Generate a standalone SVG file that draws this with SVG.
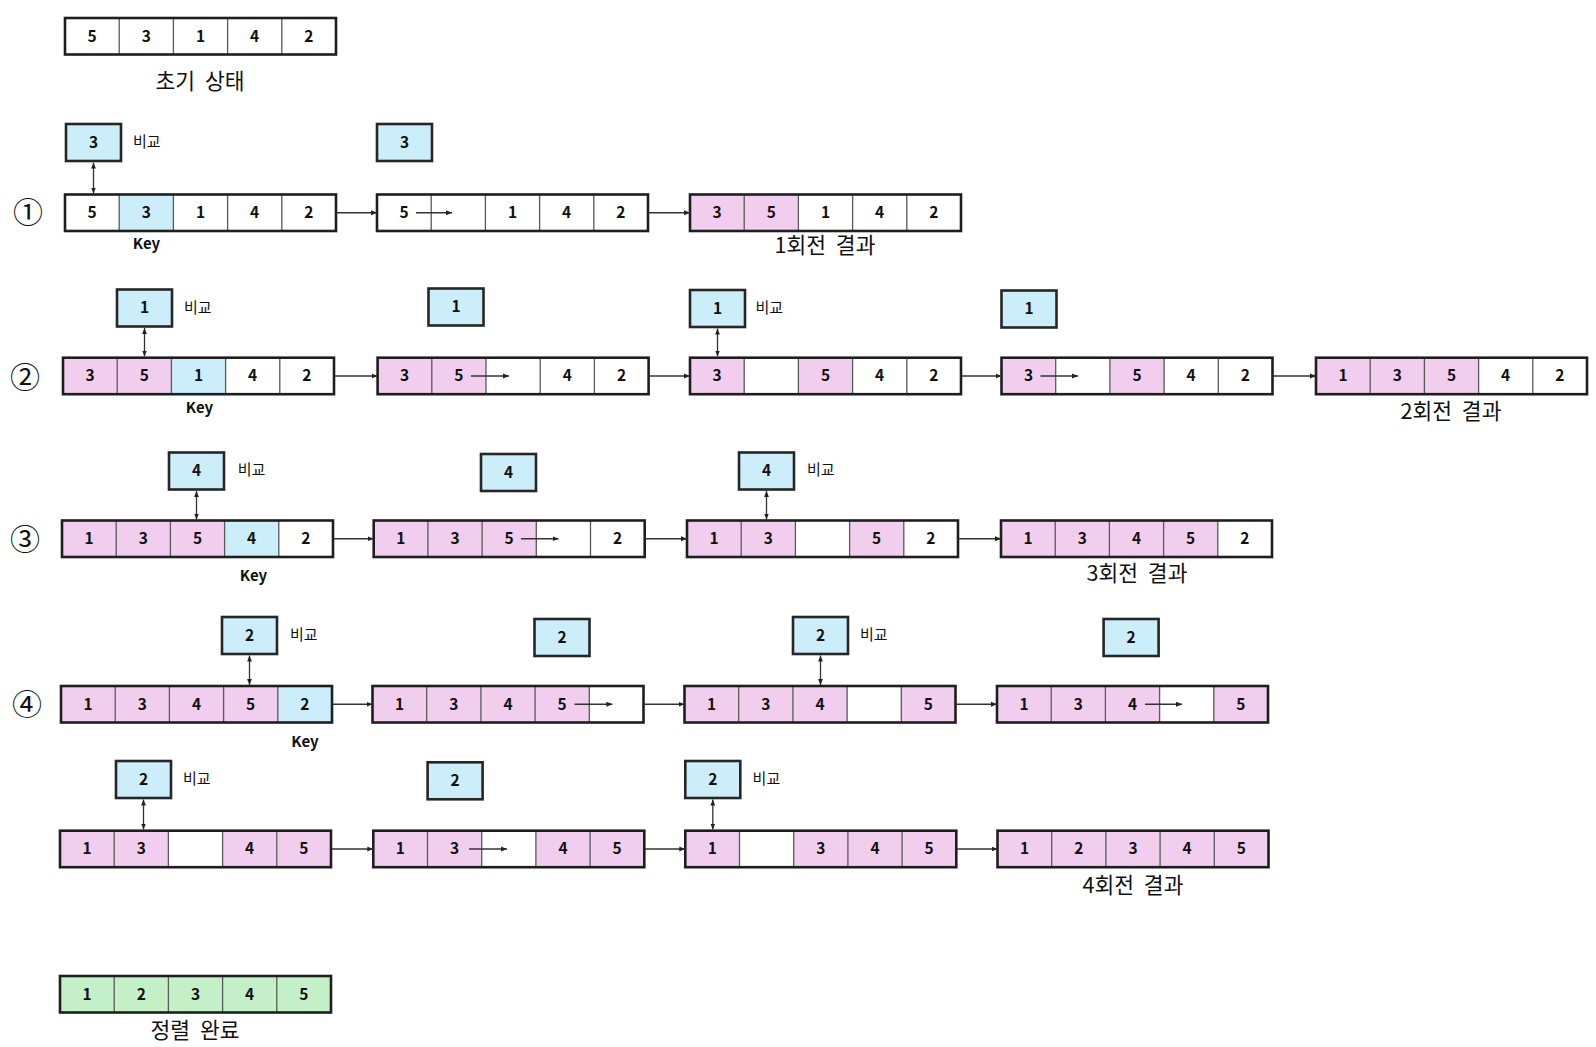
<svg xmlns="http://www.w3.org/2000/svg" xmlns:xlink="http://www.w3.org/1999/xlink" width="1596" height="1047" viewBox="0 0 1596 1047">
<style>
.cw{fill:#ffffff}
.cp{fill:#F2CEEE}
.cb{fill:#CCEEFB}
.cg{fill:#C4F0C8}
.frame{fill:none;stroke:#1e1e1e;stroke-width:2.6}
.div{stroke:#5a5a5a;stroke-width:1.3}
.num{font-family:"Noto Sans CJK KR","Noto Sans",sans-serif;font-weight:bold;font-size:15.5px;text-anchor:middle;dominant-baseline:central;fill:#111}
.box{fill:#CCEEFB;stroke:#262626;stroke-width:2.6}
.lbl{font-family:"Noto Sans CJK KR","Noto Sans",sans-serif;font-size:15px;dominant-baseline:central;fill:#111}
.cap{font-family:"Noto Sans CJK KR","Noto Sans",sans-serif;font-size:21.5px;word-spacing:5px;text-anchor:middle;dominant-baseline:central;fill:#111}
.key{font-family:"Noto Sans CJK KR","Noto Sans",sans-serif;font-weight:bold;font-size:15px;text-anchor:middle;dominant-baseline:central;fill:#111}
.circ{font-family:"Noto Sans CJK KR","Noto Sans",sans-serif;font-size:30px;text-anchor:middle;dominant-baseline:central;fill:#111}
.con{stroke:#333;stroke-width:1.3;fill:none}
.one{marker-end:url(#ah)}
.two{marker-start:url(#ah);marker-end:url(#ah)}
</style>
<defs>
<marker id="ah" viewBox="0 0 10 10" refX="10" refY="5" markerWidth="6" markerHeight="6" markerUnits="userSpaceOnUse" orient="auto-start-reverse">
<path d="M0 1L10 5L0 9z" fill="#222"/>
</marker>
<g id="grid">
<path class="div" d="M54.2 0V36.5M108.4 0V36.5M162.6 0V36.5M216.8 0V36.5"/>
<rect class="frame" width="271" height="36.5"/>
</g>
</defs>
<rect width="1596" height="1047" fill="#ffffff"/>

<!-- row 0 -->
<g id="r0" transform="translate(65,18)">
<rect class="cw" width="271" height="36.5"/>
<use xlink:href="#grid"/>
<text class="num" x="27.1" y="16.8">5</text><text class="num" x="81.3" y="16.8">3</text><text class="num" x="135.5" y="16.8">1</text><text class="num" x="189.7" y="16.8">4</text><text class="num" x="243.9" y="16.8">2</text>
</g>
<g id="cap0"><text class="cap" x="200" y="79.5">초기 상태</text></g>

<!-- row 1 -->
<g id="step1"><text class="circ" x="28" y="210">①</text></g>
<g id="r1a" transform="translate(65,194.5)">
<rect class="cw" width="271" height="36.5"/><rect class="cb" x="54.2" width="54.2" height="36.5"/>
<use xlink:href="#grid"/>
<text class="num" x="27.1" y="16.8">5</text><text class="num" x="81.3" y="16.8">3</text><text class="num" x="135.5" y="16.8">1</text><text class="num" x="189.7" y="16.8">4</text><text class="num" x="243.9" y="16.8">2</text>
</g>
<g id="r1b" transform="translate(377,194.5)">
<rect class="cw" width="271" height="36.5"/>
<use xlink:href="#grid"/>
<text class="num" x="27.1" y="16.8">5</text><text class="num" x="135.5" y="16.8">1</text><text class="num" x="189.7" y="16.8">4</text><text class="num" x="243.9" y="16.8">2</text>
</g>
<g id="r1c" transform="translate(690,194.5)">
<rect class="cw" width="271" height="36.5"/><rect class="cp" width="108.4" height="36.5"/>
<use xlink:href="#grid"/>
<text class="num" x="27.1" y="16.8">3</text><text class="num" x="81.3" y="16.8">5</text><text class="num" x="135.5" y="16.8">1</text><text class="num" x="189.7" y="16.8">4</text><text class="num" x="243.9" y="16.8">2</text>
</g>
<g id="b1a"><rect class="box" x="66" y="124" width="55" height="37"/><text class="num" x="93.5" y="140.5">3</text><text class="lbl" x="133" y="140">비교</text></g>
<g id="b1b"><rect class="box" x="377" y="124" width="55" height="37"/><text class="num" x="404.5" y="140.5">3</text></g>
<g id="k1"><text class="key" x="146.5" y="242.5">Key</text></g>
<g id="cap1"><text class="cap" x="825" y="243">1회전 결과</text></g>

<!-- row 2 -->
<g id="step2"><text class="circ" x="25" y="375">②</text></g>
<g id="r2a" transform="translate(63,357.7)">
<rect class="cw" width="271" height="36.5"/><rect class="cp" width="108.4" height="36.5"/><rect class="cb" x="108.4" width="54.2" height="36.5"/>
<use xlink:href="#grid"/>
<text class="num" x="27.1" y="16.8">3</text><text class="num" x="81.3" y="16.8">5</text><text class="num" x="135.5" y="16.8">1</text><text class="num" x="189.7" y="16.8">4</text><text class="num" x="243.9" y="16.8">2</text>
</g>
<g id="r2b" transform="translate(377.6,357.7)">
<rect class="cw" width="271" height="36.5"/><rect class="cp" width="108.4" height="36.5"/>
<use xlink:href="#grid"/>
<text class="num" x="27.1" y="16.8">3</text><text class="num" x="81.3" y="16.8">5</text><text class="num" x="189.7" y="16.8">4</text><text class="num" x="243.9" y="16.8">2</text>
</g>
<g id="r2c" transform="translate(690,357.7)">
<rect class="cw" width="271" height="36.5"/><rect class="cp" width="54.2" height="36.5"/><rect class="cp" x="108.4" width="54.2" height="36.5"/>
<use xlink:href="#grid"/>
<text class="num" x="27.1" y="16.8">3</text><text class="num" x="135.5" y="16.8">5</text><text class="num" x="189.7" y="16.8">4</text><text class="num" x="243.9" y="16.8">2</text>
</g>
<g id="r2d" transform="translate(1001.5,357.7)">
<rect class="cw" width="271" height="36.5"/><rect class="cp" width="54.2" height="36.5"/><rect class="cp" x="108.4" width="54.2" height="36.5"/>
<use xlink:href="#grid"/>
<text class="num" x="27.1" y="16.8">3</text><text class="num" x="135.5" y="16.8">5</text><text class="num" x="189.7" y="16.8">4</text><text class="num" x="243.9" y="16.8">2</text>
</g>
<g id="r2e" transform="translate(1316,357.7)">
<rect class="cw" width="271" height="36.5"/><rect class="cp" width="162.6" height="36.5"/>
<use xlink:href="#grid"/>
<text class="num" x="27.1" y="16.8">1</text><text class="num" x="81.3" y="16.8">3</text><text class="num" x="135.5" y="16.8">5</text><text class="num" x="189.7" y="16.8">4</text><text class="num" x="243.9" y="16.8">2</text>
</g>
<g id="b2a"><rect class="box" x="117" y="289.5" width="55" height="37"/><text class="num" x="144.5" y="306">1</text><text class="lbl" x="184" y="306">비교</text></g>
<g id="b2b"><rect class="box" x="428.5" y="288.5" width="55" height="37"/><text class="num" x="456" y="305">1</text></g>
<g id="b2c"><rect class="box" x="690" y="290" width="55" height="37"/><text class="num" x="717.5" y="306.5">1</text><text class="lbl" x="755.5" y="306">비교</text></g>
<g id="b2d"><rect class="box" x="1001.5" y="290.5" width="55" height="37"/><text class="num" x="1029" y="307">1</text></g>
<g id="k2"><text class="key" x="199.5" y="406.5">Key</text></g>
<g id="cap2"><text class="cap" x="1451" y="409">2회전 결과</text></g>

<!-- row 3 -->
<g id="step3"><text class="circ" x="25" y="537">③</text></g>
<g id="r3a" transform="translate(62,520.5)">
<rect class="cw" width="271" height="36.5"/><rect class="cp" width="162.6" height="36.5"/><rect class="cb" x="162.6" width="54.2" height="36.5"/>
<use xlink:href="#grid"/>
<text class="num" x="27.1" y="16.8">1</text><text class="num" x="81.3" y="16.8">3</text><text class="num" x="135.5" y="16.8">5</text><text class="num" x="189.7" y="16.8">4</text><text class="num" x="243.9" y="16.8">2</text>
</g>
<g id="r3b" transform="translate(373.7,520.5)">
<rect class="cw" width="271" height="36.5"/><rect class="cp" width="162.6" height="36.5"/>
<use xlink:href="#grid"/>
<text class="num" x="27.1" y="16.8">1</text><text class="num" x="81.3" y="16.8">3</text><text class="num" x="135.5" y="16.8">5</text><text class="num" x="243.9" y="16.8">2</text>
</g>
<g id="r3c" transform="translate(687,520.5)">
<rect class="cw" width="271" height="36.5"/><rect class="cp" width="108.4" height="36.5"/><rect class="cp" x="162.6" width="54.2" height="36.5"/>
<use xlink:href="#grid"/>
<text class="num" x="27.1" y="16.8">1</text><text class="num" x="81.3" y="16.8">3</text><text class="num" x="189.7" y="16.8">5</text><text class="num" x="243.9" y="16.8">2</text>
</g>
<g id="r3d" transform="translate(1001,520.5)">
<rect class="cw" width="271" height="36.5"/><rect class="cp" width="216.8" height="36.5"/>
<use xlink:href="#grid"/>
<text class="num" x="27.1" y="16.8">1</text><text class="num" x="81.3" y="16.8">3</text><text class="num" x="135.5" y="16.8">4</text><text class="num" x="189.7" y="16.8">5</text><text class="num" x="243.9" y="16.8">2</text>
</g>
<g id="b3a"><rect class="box" x="169" y="452.5" width="55" height="37"/><text class="num" x="196.5" y="469">4</text><text class="lbl" x="237.8" y="468">비교</text></g>
<g id="b3b"><rect class="box" x="481" y="454" width="55" height="37"/><text class="num" x="508.5" y="470.5">4</text></g>
<g id="b3c"><rect class="box" x="739" y="452.5" width="55" height="37"/><text class="num" x="766.5" y="469">4</text><text class="lbl" x="807" y="468">비교</text></g>
<g id="k3"><text class="key" x="253.5" y="574.5">Key</text></g>
<g id="cap3"><text class="cap" x="1137" y="571">3회전 결과</text></g>

<!-- row 4a -->
<g id="step4"><text class="circ" x="27" y="702">④</text></g>
<g id="r4a" transform="translate(61,686)">
<rect class="cw" width="271" height="36.5"/><rect class="cp" width="216.8" height="36.5"/><rect class="cb" x="216.8" width="54.2" height="36.5"/>
<use xlink:href="#grid"/>
<text class="num" x="27.1" y="16.8">1</text><text class="num" x="81.3" y="16.8">3</text><text class="num" x="135.5" y="16.8">4</text><text class="num" x="189.7" y="16.8">5</text><text class="num" x="243.9" y="16.8">2</text>
</g>
<g id="r4b" transform="translate(372.5,686)">
<rect class="cw" width="271" height="36.5"/><rect class="cp" width="216.8" height="36.5"/>
<use xlink:href="#grid"/>
<text class="num" x="27.1" y="16.8">1</text><text class="num" x="81.3" y="16.8">3</text><text class="num" x="135.5" y="16.8">4</text><text class="num" x="189.7" y="16.8">5</text>
</g>
<g id="r4c" transform="translate(684.5,686)">
<rect class="cw" width="271" height="36.5"/><rect class="cp" width="162.6" height="36.5"/><rect class="cp" x="216.8" width="54.2" height="36.5"/>
<use xlink:href="#grid"/>
<text class="num" x="27.1" y="16.8">1</text><text class="num" x="81.3" y="16.8">3</text><text class="num" x="135.5" y="16.8">4</text><text class="num" x="243.9" y="16.8">5</text>
</g>
<g id="r4d" transform="translate(997,686)">
<rect class="cw" width="271" height="36.5"/><rect class="cp" width="162.6" height="36.5"/><rect class="cp" x="216.8" width="54.2" height="36.5"/>
<use xlink:href="#grid"/>
<text class="num" x="27.1" y="16.8">1</text><text class="num" x="81.3" y="16.8">3</text><text class="num" x="135.5" y="16.8">4</text><text class="num" x="243.9" y="16.8">5</text>
</g>
<g id="b4a"><rect class="box" x="222" y="617" width="55" height="37"/><text class="num" x="249.5" y="633.5">2</text><text class="lbl" x="290" y="633">비교</text></g>
<g id="b4b"><rect class="box" x="534.5" y="619" width="55" height="37"/><text class="num" x="562" y="635.5">2</text></g>
<g id="b4c"><rect class="box" x="793" y="617" width="55" height="37"/><text class="num" x="820.5" y="633.5">2</text><text class="lbl" x="860" y="633">비교</text></g>
<g id="b4d"><rect class="box" x="1103.6" y="619" width="55" height="37"/><text class="num" x="1131.1" y="635.5">2</text></g>
<g id="k4"><text class="key" x="305" y="740.5">Key</text></g>

<!-- row 4b -->
<g id="r5a" transform="translate(60,830.7)">
<rect class="cw" width="271" height="36.5"/><rect class="cp" width="108.4" height="36.5"/><rect class="cp" x="162.6" width="108.4" height="36.5"/>
<use xlink:href="#grid"/>
<text class="num" x="27.1" y="16.8">1</text><text class="num" x="81.3" y="16.8">3</text><text class="num" x="189.7" y="16.8">4</text><text class="num" x="243.9" y="16.8">5</text>
</g>
<g id="r5b" transform="translate(373.3,830.7)">
<rect class="cw" width="271" height="36.5"/><rect class="cp" width="108.4" height="36.5"/><rect class="cp" x="162.6" width="108.4" height="36.5"/>
<use xlink:href="#grid"/>
<text class="num" x="27.1" y="16.8">1</text><text class="num" x="81.3" y="16.8">3</text><text class="num" x="189.7" y="16.8">4</text><text class="num" x="243.9" y="16.8">5</text>
</g>
<g id="r5c" transform="translate(685.3,830.7)">
<rect class="cw" width="271" height="36.5"/><rect class="cp" width="54.2" height="36.5"/><rect class="cp" x="108.4" width="162.6" height="36.5"/>
<use xlink:href="#grid"/>
<text class="num" x="27.1" y="16.8">1</text><text class="num" x="135.5" y="16.8">3</text><text class="num" x="189.7" y="16.8">4</text><text class="num" x="243.9" y="16.8">5</text>
</g>
<g id="r5d" transform="translate(997.5,830.7)">
<rect class="cp" width="271" height="36.5"/>
<use xlink:href="#grid"/>
<text class="num" x="27.1" y="16.8">1</text><text class="num" x="81.3" y="16.8">2</text><text class="num" x="135.5" y="16.8">3</text><text class="num" x="189.7" y="16.8">4</text><text class="num" x="243.9" y="16.8">5</text>
</g>
<g id="b5a"><rect class="box" x="116" y="761" width="55" height="37"/><text class="num" x="143.5" y="777.5">2</text><text class="lbl" x="183" y="777">비교</text></g>
<g id="b5b"><rect class="box" x="427.6" y="762.3" width="55" height="37"/><text class="num" x="455.1" y="778.8">2</text></g>
<g id="b5c"><rect class="box" x="685.3" y="761" width="55" height="37"/><text class="num" x="712.8" y="777.5">2</text><text class="lbl" x="752.6" y="777">비교</text></g>
<g id="cap4"><text class="cap" x="1133" y="883">4회전 결과</text></g>

<!-- final -->
<g id="fin" transform="translate(60,976)">
<rect class="cg" width="271" height="36.5"/>
<use xlink:href="#grid"/>
<text class="num" x="27.1" y="16.8">1</text><text class="num" x="81.3" y="16.8">2</text><text class="num" x="135.5" y="16.8">3</text><text class="num" x="189.7" y="16.8">4</text><text class="num" x="243.9" y="16.8">5</text>
</g>
<g id="capf"><text class="cap" x="195" y="1028">정렬 완료</text></g>

<!-- connectors -->
<g id="connectors">
<path class="con one" d="M336.5 212.75H377"/>
<path class="con one" d="M648.5 212.75H690"/>
<path class="con one" d="M334.5 376H377.6"/>
<path class="con one" d="M649 376H690"/>
<path class="con one" d="M961.5 376H1001.5"/>
<path class="con one" d="M1273 376H1316"/>
<path class="con one" d="M333.5 538.75H373.7"/>
<path class="con one" d="M645 538.75H687"/>
<path class="con one" d="M958.5 538.75H1001"/>
<path class="con one" d="M332.5 704.25H372.5"/>
<path class="con one" d="M644 704.25H684.5"/>
<path class="con one" d="M956 704.25H997"/>
<path class="con one" d="M331.5 849H373.3"/>
<path class="con one" d="M644.8 849H685.3"/>
<path class="con one" d="M956.8 849H997.5"/>

<path class="con one" d="M416 212.75H452"/>
<path class="con one" d="M471 376H509"/>
<path class="con one" d="M1040.5 376H1078"/>
<path class="con one" d="M521 538.75H558.5"/>
<path class="con one" d="M574.5 704.25H612.4"/>
<path class="con one" d="M1145 704.25H1182"/>
<path class="con one" d="M469 849H507"/>

<path class="con two" d="M93.5 162.5V193.5"/>
<path class="con two" d="M144.5 328V356.5"/>
<path class="con two" d="M717.5 328.5V356.5"/>
<path class="con two" d="M196.5 491V519.5"/>
<path class="con two" d="M766.5 491V519.5"/>
<path class="con two" d="M249.5 655.5V685"/>
<path class="con two" d="M820.5 655.5V685"/>
<path class="con two" d="M143.5 799.5V829.5"/>
<path class="con two" d="M712.8 799.5V829.5"/>
</g>
</svg>
